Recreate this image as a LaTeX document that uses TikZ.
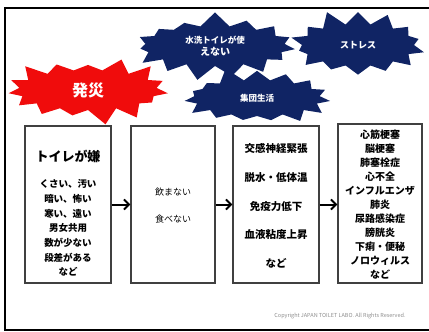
\documentclass[tikz,border=0pt]{standalone}
\usepackage{fontspec}
\setmainfont{Noto Sans CJK JP}
\usetikzlibrary{shapes.symbols,arrows.meta}
\definecolor{navy}{RGB}{16,36,100}
\definecolor{firered}{RGB}{240,12,12}
\newcommand\myfs[2]{\fontsize{#1}{#2}\selectfont}
\begin{document}
\begin{tikzpicture}[x=1pt,y=-1pt,
  box/.style={draw=black!75, line width=1.2pt, inner sep=0pt},
  burst/.style={starburst, draw=none, text=white, font=\bfseries, inner sep=0pt, align=center},
  flow/.style={line width=2pt, -{Straight Barb[length=5pt,width=10pt]}},
  txt/.style={align=center, inner sep=0pt}]
\useasboundingbox (0,0) rectangle (429,332);
\draw[line width=2pt] (429,8) -- (5,8) -- (5,330) -- (429,330);

% starbursts
\node[burst, fill=navy, minimum width=170pt, minimum height=70pt, starburst points=15, starburst point height=15pt, random starburst=7] (s1) at (215,46) {\myfs{8.5}{12}水洗トイレが使\\えない};
\node[burst, fill=navy, minimum width=144pt, minimum height=74pt, starburst points=14, starburst point height=16pt, random starburst=11] (s2) at (358,45) {\myfs{9}{11}ストレス};
\node[burst, fill=navy, minimum width=156pt, minimum height=66pt, starburst points=15, starburst point height=15pt, random starburst=5] (s3) at (257,98) {\myfs{8.5}{11}集団生活};
\node[burst, fill=firered, minimum width=170pt, minimum height=72pt, starburst points=15, starburst point height=16pt, random starburst=3] (s0) at (88,90) {\myfs{16}{18}発災};

% boxes
\node[box, minimum width=86pt, minimum height=157pt] (b1) at (68,204.5) {};
\node[box, minimum width=84pt, minimum height=157pt] (b2) at (173,204.5) {};
\node[box, minimum width=86pt, minimum height=157pt] (b3) at (276,204.5) {};
\node[box, minimum width=84pt, minimum height=159pt] (b4) at (380,203.5) {};

% texts
\node[txt, font=\bfseries\myfs{13}{15}] (t1) at (68,156) {トイレが嫌};
\node[txt, font=\bfseries\myfs{9.5}{14.7}] (t1b) at (68,228) {くさい、汚い\\暗い、怖い\\寒い、遠い\\男女共用\\数が少ない\\段差がある\\など};
\node[txt, font=\myfs{9}{27}] (t2) at (173,206) {飲まない\\食べない};
\node[txt, font=\bfseries\myfs{10.5}{28.7}] (t3) at (276,206) {交感神経緊張\\脱水・低体温\\免疫力低下\\血液粘度上昇\\など};
\node[txt, font=\bfseries\myfs{10}{14}] (t4) at (380,205) {心筋梗塞\\脳梗塞\\肺塞栓症\\心不全\\インフルエンザ\\肺炎\\尿路感染症\\膀胱炎\\下痢・便秘\\ノロウィルス\\など};

% arrows
\draw[flow] (b1) -- (b2);
\draw[flow] (b2) -- (b3);
\draw[flow] (b3.east) -- (b3.east -| b4.west);

\node[text=black!45, font=\myfs{5.5}{6}] (copy) at (340,316) {Copyright JAPAN TOILET LABO. All Rights Reserved.};
\end{tikzpicture}
\end{document}
